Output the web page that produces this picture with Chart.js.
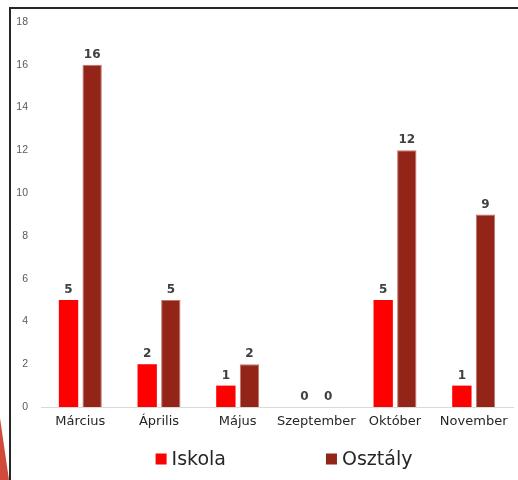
<!DOCTYPE html>
<html>
<head>
<meta charset="utf-8">
<script src="https://cdn.jsdelivr.net/npm/chart.js@4"></script>
<style>
  html, body { margin: 0; padding: 0; background: #fff; }
  #wrap { position: relative; width: 518px; height: 480px; overflow: hidden; }
  #frame {
    position: absolute; left: 9px; top: 7px; right: 0; bottom: 0;
    border-top: 2px solid #262626; border-left: 2px solid #262626;
  }
  #corner {
    position: absolute; left: 0; top: 418px; width: 9px; height: 62px;
    background: #d24a3a;
    clip-path: polygon(0 0, 100% 100%, 0 100%);
  }
  canvas { position: absolute; left: 0; top: 0; }
</style>
</head>
<body>
<div id="wrap">
  <canvas id="chart" width="518" height="480"></canvas>
  <div id="frame"></div>
  <div id="corner"></div>
</div>
<script>
// --- Data ---
const months = ['Március', 'Április', 'Május', 'Szeptember', 'Október', 'November'];
const iskola = [5, 2, 1, 0, 5, 1];
const osztaly = [16, 5, 2, 0, 12, 9];
const yMax = 18;
const yStep = 2;

// value labels above each bar
const valueLabels = {
    id: 'valueLabels',
    afterDatasetsDraw(chart) {
        const ctx = chart.ctx;
        ctx.save();
        ctx.font = 'bold 12px "DejaVu Sans"';
        ctx.fillStyle = '#404040';
        ctx.textAlign = 'center';
        ctx.textBaseline = 'alphabetic';
        chart.data.datasets.forEach((ds, i) => {
            chart.getDatasetMeta(i).data.forEach((bar, j) => {
                ctx.fillText(ds.data[j], bar.x, bar.y - 7);
            });
        });
        ctx.restore();
    }
};

// legend drawn by hand so the wide gap between items can be kept
const bottomLegend = {
    id: 'bottomLegend',
    afterDraw(chart) {
        const ctx = chart.ctx;
        const box = 11, gap = 100, textGap = 5;
        const cy = 459, cx = 284;
        ctx.save();
        ctx.font = '19px "DejaVu Sans"';
        ctx.textBaseline = 'middle';
        const items = chart.data.datasets.map(ds => ({
            text: ds.label,
            color: ds.backgroundColor,
            w: box + textGap + ctx.measureText(ds.label).width
        }));
        const total = items.reduce((a, it) => a + it.w, 0) + gap * (items.length - 1);
        let x = cx - total / 2;
        items.forEach(it => {
            ctx.fillStyle = it.color;
            ctx.fillRect(x, cy - box / 2, box, box);
            ctx.fillStyle = '#262626';
            ctx.fillText(it.text, x + box + textGap, cy + 1);
            x += it.w + gap;
        });
        ctx.restore();
    }
};

new Chart(document.getElementById('chart'), {
    type: 'bar',
    data: {
        labels: months,
        datasets: [{
            label: 'Iskola',
            data: iskola,
            backgroundColor: '#ff0000',
            categoryPercentage: 0.6,
            barPercentage: 0.82
        }, {
            label: 'Osztály',
            data: osztaly,
            backgroundColor: '#922418',
            borderColor: '#c0766e',
            borderWidth: { top: 1, left: 1, right: 1, bottom: 0 },
            categoryPercentage: 0.6,
            barPercentage: 0.82
        }]
    },
    options: {
        responsive: false,
        animation: false,
        layout: { padding: { left: 10, right: 5, top: 22, bottom: 41 } },
        scales: {
            x: {
                grid: { display: false, drawTicks: false },
                border: { display: true, color: '#d9d9d9', width: 1 },
                ticks: {
                    color: '#262626',
                    font: { family: 'DejaVu Sans', size: 13 },
                    padding: 7,
                    maxRotation: 0,
                    autoSkip: false
                },
                afterFit(scale) { scale.height = 32; }
            },
            y: {
                min: 0,
                max: yMax,
                grid: { display: false, drawTicks: false },
                border: { display: false },
                ticks: {
                    stepSize: yStep,
                    color: '#595959',
                    font: { family: 'Liberation Sans', size: 10.5 },
                    padding: 13
                },
                afterFit(scale) { scale.width = 31; }
            }
        },
        plugins: {
            legend: { display: false },
            tooltip: { enabled: false }
        }
    },
    plugins: [valueLabels, bottomLegend]
});
</script>
</body>
</html>
